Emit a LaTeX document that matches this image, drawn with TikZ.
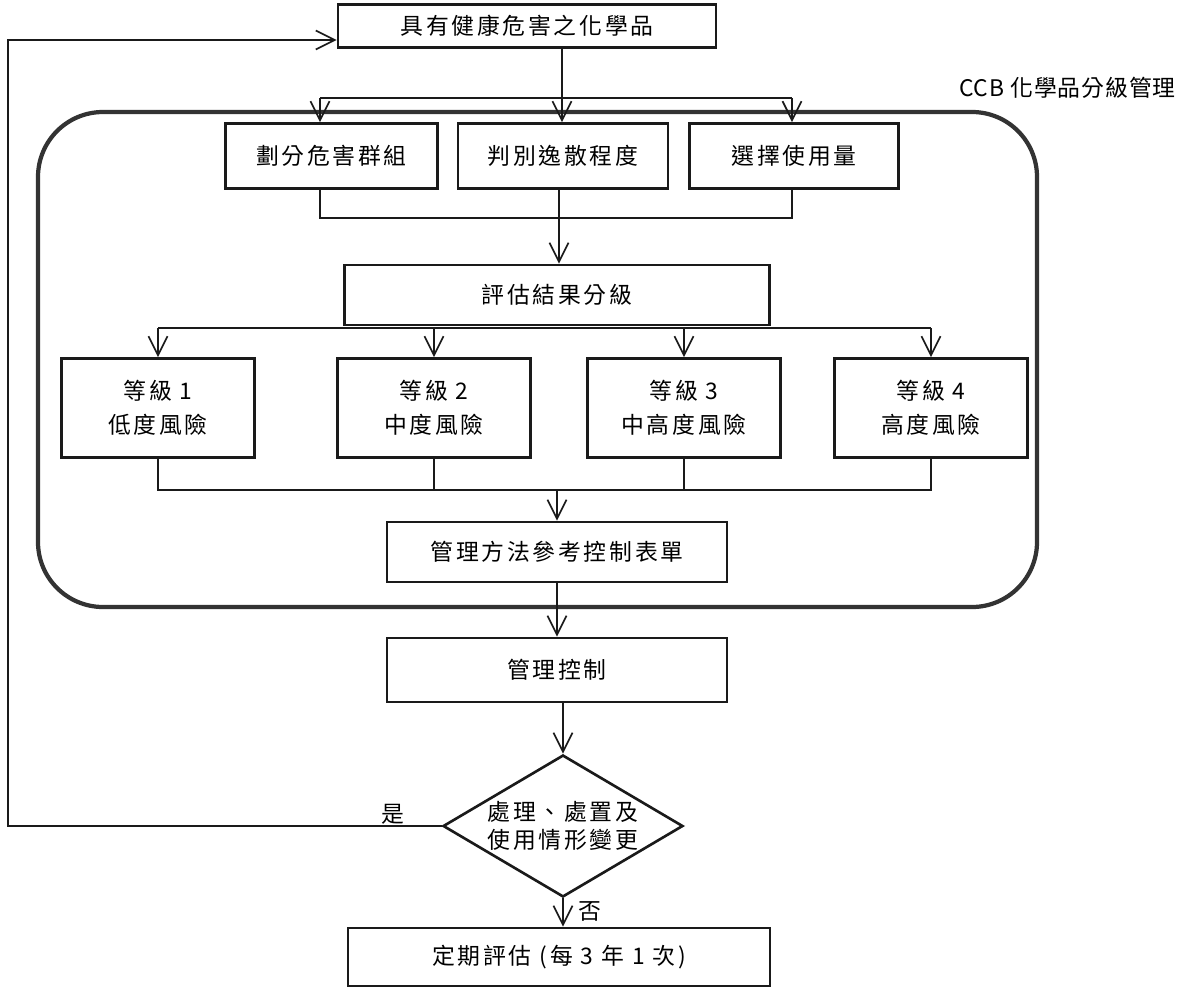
\documentclass[tikz,border=0pt]{standalone}
\usepackage{fontspec}
\setmainfont{Noto Sans CJK TC}[LetterSpace=12]
\usetikzlibrary{arrows.meta, positioning, calc, shapes.geometric}
\definecolor{ccbInk}{HTML}{1A1A1A}
\definecolor{ccbFrame}{HTML}{333333}

\begin{document}
\begin{tikzpicture}[x=0.02cm, y=-0.02cm,
  stepbox/.style={draw=ccbInk, line width=1.5pt, align=center, inner sep=0pt, font=\fontsize{13}{19.5}\selectfont},
  choice/.style={diamond, shape aspect=1.75, draw=ccbInk, line width=1.5pt, align=center, inner sep=0pt, minimum width=4.8cm, minimum height=2.84cm, font=\fontsize{13}{16}\selectfont},
  note/.style={inner sep=0pt, font=\fontsize{13}{16}\selectfont},
  frame/.style={draw=ccbFrame, line width=2.4pt, rounded corners=1.3cm},
  flow/.style={-{Straight Barb[length=3.8mm, width=3.8mm]}, line width=1pt, draw=ccbInk},
  link/.style={line width=1pt, draw=ccbInk}
]
\useasboundingbox (0,0) rectangle (1184,1001);

\draw[frame] (38,112) rectangle (1037,607);
\node[note, anchor=east, font={\fontsize{13}{16}\selectfont\addfontfeature{LetterSpace=4}}] (ccb) at (1176,88) {CCB 化學品分級管理};

\node[stepbox, minimum width=7.56cm, minimum height=0.86cm] (hazard) at (527,26) {具有健康危害之化學品};

\node[stepbox, minimum width=4.2cm, minimum height=1.3cm] (judge) at (563,156) {判別逸散程度};
\node[stepbox, minimum width=4.24cm, minimum height=1.3cm, left=0.36cm of judge] (group) {劃分危害群組};
\node[stepbox, minimum width=4.18cm, minimum height=1.3cm, right=0.38cm of judge] (amount) {選擇使用量};

\node[stepbox, minimum width=8.5cm, minimum height=1.2cm] (grade) at (557,295) {評估結果分級};

\node[stepbox, minimum width=3.86cm, minimum height=1.98cm] (lv1) at (158,408) {等級 1\\低度風險};
\node[stepbox, minimum width=3.86cm, minimum height=1.98cm] (lv2) at (434,408) {等級 2\\中度風險};
\node[stepbox, minimum width=3.86cm, minimum height=1.98cm] (lv3) at (684,408) {等級 3\\中高度風險};
\node[stepbox, minimum width=3.86cm, minimum height=1.98cm] (lv4) at (931,408) {等級 4\\高度風險};

\node[stepbox, minimum width=6.8cm, minimum height=1.2cm] (method) at (557,552) {管理方法參考控制表單};
\node[stepbox, minimum width=6.8cm, minimum height=1.28cm] (ctrl) at (557,670) {管理控制};
\node[choice] (check) at (563,826) {處理、處置及\\使用情形變更};
\node[stepbox, minimum width=8.44cm, minimum height=1.16cm] (review) at (559,957) {定期評估 (每 3 年 1 次)};

\coordinate (split) at (562,98);
\coordinate (splitL) at (320,98);
\coordinate (splitR) at (792,98);
\coordinate (merge) at (559,218);
\coordinate (fan) at (557,328);
\coordinate (join) at (557,490);
\coordinate (loop) at (8,40);

\draw[flow] (hazard.south -| split) -- (judge.north -| split);
\draw[link] (splitL) -- (splitR);
\draw[flow] (splitL) -- (group.north -| splitL);
\draw[flow] (splitR) -- (amount.north -| splitR);

\draw[link] (group.south -| splitL) |- (merge) -| (amount.south -| splitR);
\draw[link] (judge.south -| merge) -- (merge);
\draw[flow] (merge) -- (grade.north -| merge);

\draw[link] (lv1.north |- fan) -- (lv4.north |- fan);
\foreach \n in {1,2,3,4}
  \draw[flow] (lv\n.north |- fan) -- (lv\n.north);

\draw[link] (lv1.south) |- (join) -| (lv4.south);
\draw[link] (lv2.south) -- (lv2.south |- join);
\draw[link] (lv3.south) -- (lv3.south |- join);
\draw[flow] (join) -- (method.north);

\draw[flow] (method.south) -- (ctrl.north);
\draw[flow] (ctrl.south -| check.north) -- (check.north);
\draw[flow] (check.south) -- (review.north -| check.south);
\draw[flow] (check.west) -| (loop) -- (hazard.west |- loop);

\node[note, above left=1pt and 0.74cm of check.west] (yes) {是};
\node[note, below right=0.06cm and 0.3cm of check.south] (no) {否};
\end{tikzpicture}
\end{document}
